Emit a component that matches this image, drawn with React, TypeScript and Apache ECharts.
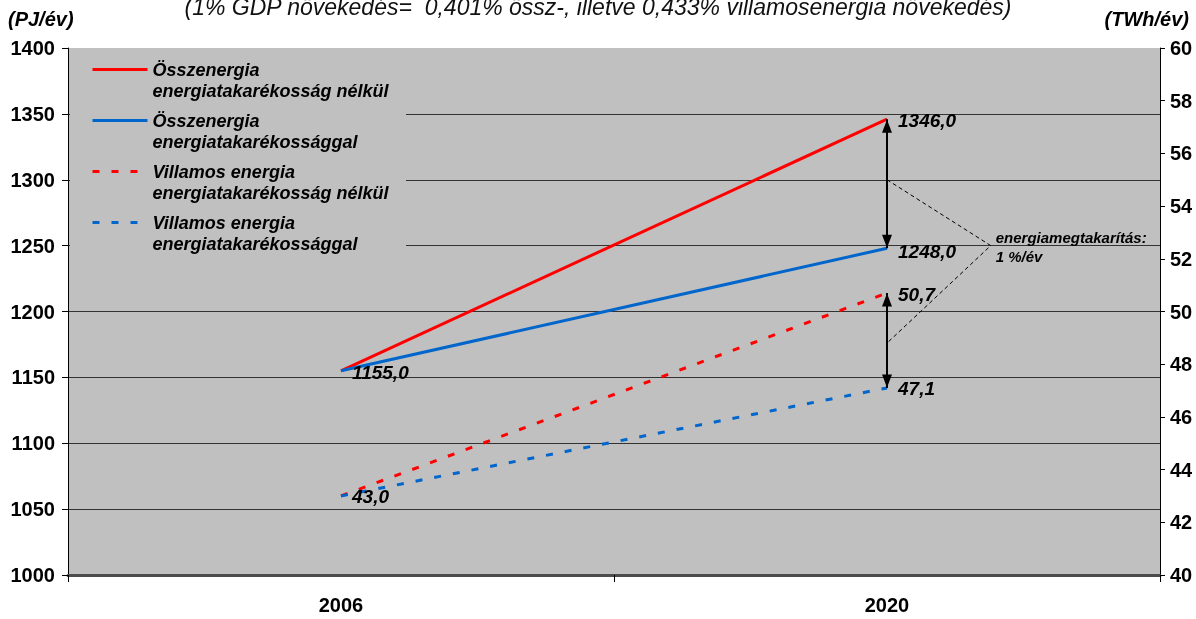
import React, { useEffect, useRef } from "react";
import * as echarts from "echarts";

const years = ["2006", "2020"];
const totalNoSaving = [1155.0, 1346.0];
const totalSaving = [1155.0, 1248.0];
const elecNoSaving = [43.0, 50.7];
const elecSaving = [43.0, 47.1];

const leftMin = 1000;
const leftMax = 1400;
const leftInterval = 50;
const rightMin = 40;
const rightMax = 60;
const rightInterval = 2;

const seriesNames = [
  "Összenergia energiatakarékosság nélkül",
  "Összenergia energiatakarékossággal",
  "Villamos energia energiatakarékosság nélkül",
  "Villamos energia energiatakarékossággal",
];
const legendLines: Record<string, string[]> = {
  "Összenergia energiatakarékosság nélkül": ["Összenergia", "energiatakarékosság nélkül"],
  "Összenergia energiatakarékossággal": ["Összenergia", "energiatakarékossággal"],
  "Villamos energia energiatakarékosság nélkül": ["Villamos energia", "energiatakarékosság nélkül"],
  "Villamos energia energiatakarékossággal": ["Villamos energia", "energiatakarékossággal"],
};

const titleText = "(1% GDP növekedés=  0,401% össz-, illetve 0,433% villamosenergia növekedés)";
const leftUnit = "(PJ/év)";
const rightUnit = "(TWh/év)";
const savingText = ["energiamegtakarítás:", "1 %/év"];
const savingLeftTop = 1300;
const savingCornerLeft = 1250;
const savingRightBottom = 48.8;

const RED = "#ff0000";
const BLUE = "#0066cc";
const FONT = "'Liberation Sans', Arial, Helvetica, sans-serif";

const fmt = (p: any) => {
  const v = typeof p.value === "number" ? p.value : Number(p.value);
  return v.toFixed(1).replace(".", ",");
};

const valueLabel = (offsetY: number) => ({
  show: true,
  position: "right",
  distance: 11,
  offset: [0, offsetY],
  formatter: fmt,
  color: "#000",
  fontSize: 19,
  fontWeight: "bold",
  fontStyle: "italic",
  fontFamily: FONT,
});

export default function App() {
  const ref = useRef<HTMLDivElement>(null);

  useEffect(() => {
    if (!ref.current) return;
    const chart = echarts.init(ref.current, undefined, { renderer: "svg" });

    const arrowMark = (a: number, b: number) => ({
      silent: true,
      symbol: ["triangle", "triangle"],
      symbolSize: [10, 13],
      symbolOffset: [
        [0, 7],
        [0, 7],
      ],
      lineStyle: { color: "#000", width: 2, type: "solid" },
      label: { show: false },
      emphasis: { disabled: true },
      data: [[{ coord: [years[1], a] }, { coord: [years[1], b] }]],
    });

    const option: any = {
      animation: false,
      title: [
        {
          text: titleText,
          left: "center",
          top: -5,
          padding: 0,
          textStyle: { fontSize: 23, fontStyle: "italic", fontWeight: "normal", color: "#111", fontFamily: FONT },
        },
        {
          text: leftUnit,
          left: 8,
          top: 9,
          padding: 0,
          textStyle: { fontSize: 20, fontStyle: "italic", fontWeight: "bold", color: "#000", fontFamily: FONT },
        },
        {
          text: rightUnit,
          right: 7,
          top: 9,
          padding: 0,
          textStyle: { fontSize: 20, fontStyle: "italic", fontWeight: "bold", color: "#000", fontFamily: FONT },
        },
      ],
      grid: {
        left: 68,
        right: 36,
        top: 48,
        bottom: 44,
        show: true,
        backgroundColor: "#c0c0c0",
        borderWidth: 0,
      },
      legend: {
        orient: "vertical",
        left: 91,
        top: 38,
        padding: 0,
        itemWidth: 55,
        itemHeight: 14,
        itemGap: -12,
        selectedMode: false,
        data: seriesNames,
        formatter: (name: string) => "\n" + legendLines[name].join("\n"),
        lineStyle: { width: 3 },
        itemStyle: { opacity: 0 },
        textStyle: {
          fontSize: 18,
          lineHeight: 21,
          fontWeight: "bold",
          fontStyle: "italic",
          color: "#000",
          fontFamily: FONT,
        },
      },
      xAxis: {
        type: "category",
        data: years,
        boundaryGap: true,
        axisLine: { show: true, lineStyle: { color: "#4d4d4d", width: 3 } },
        axisTick: { show: true, length: 7, lineStyle: { color: "#000", width: 1 } },
        axisLabel: { fontSize: 20, fontWeight: "bold", color: "#000", margin: 20, fontFamily: FONT },
        splitLine: { show: false },
      },
      yAxis: [
        {
          type: "value",
          min: leftMin,
          max: leftMax,
          interval: leftInterval,
          position: "left",
          axisLine: { show: true, lineStyle: { color: "#000", width: 1 } },
          axisTick: { show: true, length: 6, lineStyle: { color: "#000" } },
          axisLabel: {
            fontSize: 20,
            fontWeight: "bold",
            color: "#000",
            margin: 13,
            fontFamily: FONT,
            formatter: (v: number) => String(v),
          },
          splitLine: {
            show: true,
            lineStyle: {
              color: ["#4d4d4d", "#333", "#333", "#333", "#333", "#333", "#333", "#333", "rgba(0,0,0,0)"],
              width: 1,
            },
          },
        },
        {
          type: "value",
          min: rightMin,
          max: rightMax,
          interval: rightInterval,
          position: "right",
          axisLine: { show: true, lineStyle: { color: "#000", width: 1 } },
          axisTick: { show: true, length: 5, lineStyle: { color: "#000" } },
          axisLabel: {
            fontSize: 20,
            fontWeight: "bold",
            color: "#000",
            margin: 10,
            fontFamily: FONT,
            formatter: (v: number) => String(v),
          },
          splitLine: { show: false },
        },
      ],
      series: [
        {
          name: seriesNames[0],
          type: "line",
          yAxisIndex: 0,
          symbol: "circle",
          symbolSize: 0,
          lineStyle: { color: RED, width: 3, type: "solid" },
          itemStyle: { color: RED },
          data: [
            { value: totalNoSaving[0], label: valueLabel(2) },
            { value: totalNoSaving[1], label: valueLabel(1) },
          ],
          markLine: arrowMark(totalNoSaving[1], totalSaving[1]),
        },
        {
          name: seriesNames[1],
          type: "line",
          yAxisIndex: 0,
          symbol: "circle",
          symbolSize: 0,
          lineStyle: { color: BLUE, width: 3, type: "solid" },
          itemStyle: { color: BLUE },
          data: [totalSaving[0], { value: totalSaving[1], label: valueLabel(3) }],
        },
        {
          name: seriesNames[2],
          type: "line",
          yAxisIndex: 1,
          symbol: "circle",
          symbolSize: 0,
          lineStyle: { color: RED, width: 3, type: [7, 12] },
          itemStyle: { color: RED },
          data: [
            { value: elecNoSaving[0], label: valueLabel(1) },
            { value: elecNoSaving[1], label: valueLabel(1) },
          ],
          markLine: arrowMark(elecNoSaving[1], elecSaving[1]),
        },
        {
          name: seriesNames[3],
          type: "line",
          yAxisIndex: 1,
          symbol: "circle",
          symbolSize: 0,
          lineStyle: { color: BLUE, width: 3, type: [7, 12] },
          itemStyle: { color: BLUE },
          data: [elecSaving[0], { value: elecSaving[1], label: valueLabel(1) }],
        },
      ],
    };

    chart.setOption(option);

    const pL = (cat: string, v: number) =>
      chart.convertToPixel({ xAxisIndex: 0, yAxisIndex: 0 }, [cat, v]) as number[];
    const pR = (cat: string, v: number) =>
      chart.convertToPixel({ xAxisIndex: 0, yAxisIndex: 1 }, [cat, v]) as number[];

    const a = pL(years[1], savingLeftTop);
    const c0 = pL(years[1], savingCornerLeft);
    const b = pR(years[1], savingRightBottom);
    const x0 = pL(years[0], leftMin)[0];
    const band = a[0] - x0;
    const corner = [a[0] + band * 0.19, c0[1]];
    const legendTop = pL(years[0], leftMax)[1];

    chart.setOption({
      graphic: [
        {
          type: "rect",
          z: 1,
          silent: true,
          shape: { x: 70, y: legendTop + 2, width: 336, height: 214 },
          style: { fill: "#c0c0c0" },
        },
        {
          type: "polyline",
          z: 3,
          silent: true,
          shape: { points: [a, corner, b] },
          style: { stroke: "#000", lineWidth: 1, lineDash: [4, 3], fill: null },
        },
        {
          type: "text",
          z: 3,
          silent: true,
          x: corner[0] + 5,
          y: corner[1] - 8,
          style: {
            text: savingText[0],
            fill: "#000",
            font: `italic bold 15px ${FONT}`,
            verticalAlign: "middle",
            align: "left",
          },
        },
        {
          type: "text",
          z: 3,
          silent: true,
          x: corner[0] + 5,
          y: corner[1] + 11,
          style: {
            text: savingText[1],
            fill: "#000",
            font: `italic bold 15px ${FONT}`,
            verticalAlign: "middle",
            align: "left",
          },
        },
      ],
    });

    return () => chart.dispose();
  }, []);

  return (
    <div
      ref={ref}
      style={{ position: "fixed", left: 0, top: 0, width: 1196, height: 619 }}
    />
  );
}
